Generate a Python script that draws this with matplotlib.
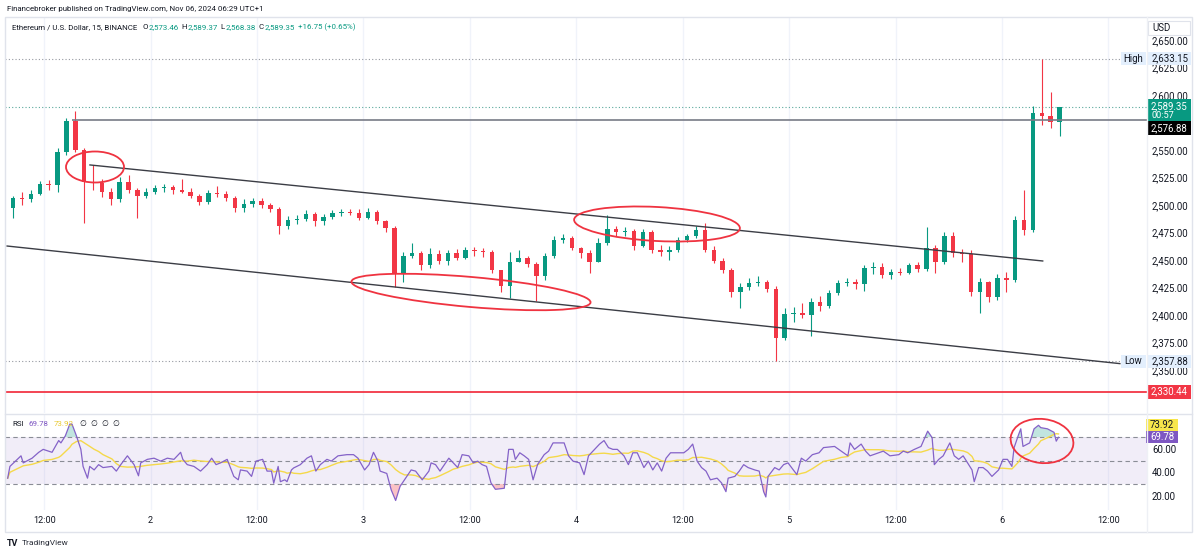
import numpy as np
import pandas as pd
import matplotlib
matplotlib.use("Agg")
import matplotlib.pyplot as plt
from matplotlib.patches import Ellipse, Rectangle

plt.rcParams['font.family'] = ['Roboto', 'DejaVu Sans']

# hourly candles, hours counted from Nov 1 00:00 (Nov 1 08:00 .. Nov 6 06:00)
candle_hours = list(range(8, 127))
first_open = 2497
closes = [2506, 2505, 2510, 2519, 2518, 2548, 2576, 2550, 2521, 2520,
          2512, 2505, 2521, 2514, 2508, 2512, 2515, 2516, 2514, 2512,
          2508, 2503, 2511, 2510, 2506, 2497, 2501, 2504, 2500, 2496,
          2481, 2486, 2487, 2492, 2485, 2489, 2493, 2494, 2493, 2488,
          2494, 2485, 2479, 2438, 2454, 2456, 2445, 2455, 2449, 2456,
          2452, 2459, 2458, 2457, 2441, 2426, 2448, 2452, 2446, 2435,
          2454, 2468, 2470, 2461, 2456, 2448, 2465, 2478, 2475, 2476,
          2463, 2475, 2459, 2457, 2459, 2468, 2472, 2477, 2459, 2449,
          2441, 2421, 2425, 2429, 2430, 2424, 2379, 2401, 2402, 2400,
          2412, 2408, 2420, 2429, 2430, 2428, 2443, 2444, 2436, 2439,
          2438, 2445, 2442, 2461, 2448, 2472, 2456, 2455, 2421, 2430,
          2416, 2434, 2432, 2486, 2477, 2584, 2581, 2575, 2589.35]
highs = [2508, 2512, 2514, 2522, 2523, 2552, 2579, 2585, 2552, 2536,
         2524, 2515, 2525, 2527, 2515, 2515, 2518, 2519, 2518, 2524,
         2515, 2510, 2514, 2517, 2513, 2508, 2505, 2506, 2506, 2502,
         2498, 2490, 2491, 2495, 2494, 2492, 2495, 2496, 2496, 2496,
         2497, 2495, 2486, 2481, 2457, 2465, 2458, 2461, 2459, 2459,
         2460, 2462, 2462, 2461, 2459, 2441, 2457, 2459, 2454, 2448,
         2456, 2472, 2474, 2472, 2462, 2459, 2470, 2491, 2481, 2480,
         2478, 2478, 2477, 2464, 2463, 2471, 2474, 2481, 2484, 2463,
         2452, 2443, 2429, 2434, 2435, 2432, 2426, 2406, 2407, 2411,
         2415, 2417, 2423, 2432, 2434, 2433, 2445, 2448, 2447, 2442,
         2443, 2447, 2448, 2480, 2464, 2475, 2475, 2460, 2459, 2434,
         2431, 2437, 2439, 2490, 2514, 2590, 2633.15, 2603, 2589.37]
lows = [2488, 2500, 2503, 2509, 2514, 2512, 2545, 2548, 2484, 2514,
        2507, 2500, 2503, 2511, 2488, 2506, 2510, 2512, 2510, 2511,
        2506, 2500, 2501, 2507, 2504, 2494, 2494, 2498, 2497, 2494,
        2474, 2478, 2483, 2485, 2481, 2482, 2487, 2490, 2491, 2486,
        2487, 2483, 2475, 2425, 2430, 2452, 2441, 2443, 2446, 2445,
        2450, 2451, 2454, 2453, 2438, 2421, 2415, 2448, 2444, 2413,
        2432, 2452, 2465, 2459, 2452, 2438, 2448, 2464, 2472, 2472,
        2459, 2462, 2456, 2454, 2450, 2457, 2466, 2470, 2457, 2447,
        2438, 2416, 2406, 2423, 2426, 2421, 2357.88, 2377, 2394, 2397,
        2381, 2404, 2406, 2418, 2426, 2424, 2422, 2437, 2434, 2433,
        2436, 2437, 2439, 2440, 2438, 2446, 2453, 2448, 2417, 2402,
        2412, 2414, 2421, 2430, 2473, 2475, 2573, 2570, 2563]

# RSI(14)
rsi_hours = [7.75, 8.0, 9.25, 9.5, 10.5, 11.25, 11.75, 12.75, 13.5, 13.75,
             14.25, 14.75, 15.0, 15.5, 16.0, 16.25, 16.75, 17.0, 17.5, 18.0,
             18.5, 19.5, 20.0, 20.5, 21.25, 22.0, 22.5, 22.75, 23.5, 24.25,
             25.0, 25.75, 26.5, 27.25, 27.5, 28.0, 28.75, 29.5, 30.25, 30.75,
             31.25, 31.75, 32.5, 33.25, 33.75, 34.0, 34.75, 35.25, 35.75, 36.5,
             37.0, 37.5, 37.75, 38.25, 38.5, 39.0, 39.25, 39.75, 40.0, 40.75,
             41.5, 42.0, 42.5, 43.0, 43.75, 44.25, 45.0, 46.0, 46.75, 47.25,
             48.0, 48.5, 49.0, 49.5, 49.75, 50.5, 51.0, 51.5, 52.0, 52.5,
             53.25, 53.75, 54.5, 55.25, 55.5, 56.0, 56.5, 57.5, 58.0, 58.5,
             59.0, 59.75, 60.25, 60.75, 61.25, 61.75, 62.25, 62.75, 63.75, 64.25,
             64.75, 65.0, 65.5, 66.0, 66.5, 67.0, 67.5, 68.25, 68.75, 69.25,
             69.75, 70.5, 71.0, 71.5, 72.25, 72.75, 73.25, 73.75, 74.5, 75.0,
             75.5, 76.0, 76.5, 77.25, 77.75, 78.25, 78.75, 79.5, 80.0, 80.5,
             81.0, 81.5, 82.0, 82.5, 83.25, 84.0, 84.5, 85.0, 85.5, 86.0,
             86.5, 87.0, 87.75, 88.25, 88.75, 89.0, 89.75, 90.25, 90.75, 91.25,
             92.0, 92.5, 93.0, 93.25, 93.5, 94.25, 94.75, 95.25, 95.75, 96.75,
             97.25, 97.75, 98.5, 99.25, 99.75, 101.0, 101.75, 102.5, 102.75, 103.25,
             104.0, 104.5, 105.0, 106.0, 106.5, 107.25, 108.25, 108.75, 109.25, 110.0,
             110.75, 111.5, 112.0, 112.25, 112.75, 113.25, 114.0, 114.5, 115.0, 115.5,
             116.0, 116.5, 116.75, 117.25, 117.75, 118.25, 118.75, 119.5, 120.0, 120.5,
             121.0, 121.25, 121.75, 122.0, 122.25, 123.0, 123.5, 124.0, 124.25, 125.0,
             125.75, 126.0, 126.25]
rsi_values = [35, 45, 54, 48, 52, 57, 59.5, 57, 67, 65,
              71, 81, 81, 71, 59.5, 45, 35, 45, 42, 46.5,
              44, 45, 41, 46.5, 54, 46.5, 37, 48, 51, 52,
              49.5, 52, 51, 57, 51, 46.5, 45, 41, 46.5, 52,
              46.5, 48, 51, 36.5, 33.6, 42, 41, 36.5, 49.5, 51,
              41, 41, 30.7, 45, 32, 33.6, 32, 42, 43.7, 46.5,
              52, 54, 41, 46.5, 51, 49.5, 54, 55, 55, 52,
              42, 46.5, 57, 49.5, 41, 39, 25, 16, 28, 33.6,
              42, 41, 33.6, 41, 48, 46.5, 41, 52, 48, 44,
              55, 54, 48, 49.5, 46.5, 45, 31, 25.5, 26.4, 59.5,
              59.5, 51, 56.6, 54, 51, 33.6, 46.5, 55, 58, 65,
              65, 65, 54, 49.5, 48, 38, 54, 58, 64, 67,
              61, 59.5, 59.5, 54, 46.5, 56.6, 56.6, 44, 49.5, 42,
              48, 41, 52, 56.6, 56.6, 56.6, 59.5, 64, 49.5, 44,
              41, 33.6, 35, 31, 23.5, 35, 36.5, 41, 46.5, 44,
              42, 41, 23.5, 19, 36.5, 44, 42, 46.5, 48, 38,
              52, 49.5, 55, 56.6, 61, 62, 58, 54, 65, 59.5,
              64, 58, 54, 56.6, 58, 54, 55, 58, 56.6, 59.5,
              62, 75, 69.5, 46.5, 51, 54, 65, 54, 51, 54,
              48, 42, 32, 44, 44, 41, 36.5, 42, 51, 51,
              45, 61, 72, 77, 62, 65, 77, 80, 78, 77,
              74, 66.5, 69.78]

x_ticks = [12, 24, 36, 48, 60, 72, 84, 96, 108, 120, 132]
x_labels = ["12:00", "2", "12:00", "3", "12:00", "4", "12:00", "5", "12:00", "6", "12:00"]
# 2,575 and 2,325 sit fully behind the price tags
price_ticks = [2350, 2375, 2400, 2425, 2450, 2475, 2500, 2525, 2550, 2600, 2625, 2650]
rsi_ticks = [20, 40, 60]

# drawn annotations
upper_channel_t, upper_channel_p = [17.15, 124.6], [2536.4, 2449.1]
lower_channel_t, lower_channel_p = [7.8, 133.3], [2462.7, 2355.8]
resistance, resistance_start = 2576.88, 15.1
support = 2330.44
day_high, day_low = 2633.15, 2357.88
last_price = 2589.35

UP, DOWN = '#089981', '#f23645'
DARK = '#131722'
FRAME = '#e0e3eb'

W, H = 1200, 555
fig = plt.figure(figsize=(W / 100, H / 100), dpi=100)


def px_axes(x0, y0, x1, y1, **kw):
    return fig.add_axes([x0 / W, 1 - y1 / H, (x1 - x0) / W, (y1 - y0) / H], **kw)


ax = px_axes(5, 17, 1147, 413)
ax_rsi = px_axes(5, 414, 1147, 510)
ov = px_axes(0, 0, W, H, zorder=10)
ov.set_xlim(0, W)
ov.set_ylim(H, 0)
ov.axis('off')
ov.patch.set_alpha(0)

XMIN, XMAX = 7.57, 136.36
for a in (ax, ax_rsi):
    a.set_xlim(XMIN, XMAX)
    for s in a.spines.values():
        s.set_visible(False)
    a.set_xticks(x_ticks)
    a.grid(axis='x', color='#f0f3fa', lw=1)
    a.set_axisbelow(True)
    a.yaxis.tick_right()
    a.tick_params(axis='y', length=0, pad=3.6, labelsize=6.9, labelcolor=DARK)
ax.tick_params(axis='x', length=0, labelbottom=False)
ax_rsi.set_xticklabels(x_labels)
ax_rsi.tick_params(axis='x', length=0, pad=4.5, labelsize=6.6, labelcolor=DARK)

# ---- price pane
ax.set_ylim(2310.9, 2670.9)
ax.set_yticks(price_ticks)
ax.set_yticklabels([f"{v:,.2f}" for v in price_ticks])

t = np.array(candle_hours) + 0.5
c = np.array(closes, float)
hi = np.array(highs, float)
lo = np.array(lows, float)
o = np.r_[first_open, c[:-1]]
col = np.where(c >= o, UP, DOWN)
ax.vlines(t, lo, hi, colors=col, lw=0.8, zorder=3)
ax.bar(t, np.maximum(np.abs(c - o), 0.6), bottom=np.minimum(o, c), width=0.5,
       color=col, lw=0, zorder=4)

ax.plot(upper_channel_t, upper_channel_p, color='#3b3d45', lw=1, zorder=5)
ax.plot(lower_channel_t, lower_channel_p, color='#3b3d45', lw=1, zorder=5)
ax.hlines(resistance, resistance_start, XMAX, color='#787b86', lw=1.2, zorder=5)
ax.axhline(support, color=DOWN, lw=1.3, zorder=5)
ax.axhline(day_high, xmax=(1120 - 5) / 1142, color='#9598a1', lw=0.8, ls=(0, (1, 2)))
ax.axhline(day_low, xmax=(1120 - 5) / 1142, color='#9598a1', lw=0.8, ls=(0, (1, 2)))
ax.axhline(last_price, color='#5aa99c', lw=0.8, ls=(0, (1, 2)))

# ---- RSI pane
ax_rsi.set_ylim(7.9, 89.6)
ax_rsi.set_yticks(rsi_ticks)
ax_rsi.set_yticklabels([f"{v:.2f}" for v in rsi_ticks])
ax_rsi.axhspan(30, 70, color='#7e57c2', alpha=0.1, lw=0)
for lev in (70, 50, 30):
    ax_rsi.axhline(lev, color='#8a8d96', lw=0.8, ls=(0, (4, 3)))
rt = np.array(rsi_hours) + 0.125
rv = np.array(rsi_values, float)
rsi_ma = pd.Series(rv).rolling(10, min_periods=1).mean()
ax_rsi.fill_between(rt, rv, 70, where=rv > 70, interpolate=True, color=UP, alpha=0.25, lw=0)
ax_rsi.fill_between(rt, rv, 30, where=rv < 30, interpolate=True, color=DOWN, alpha=0.3, lw=0)
ax_rsi.plot(rt, rsi_ma, color='#f5d94a', lw=1)
ax_rsi.plot(rt, rv, color='#8462c8', lw=0.9)


# ---- overlay: frame, labels, annotations
def py(a, v):
    return H - a.transData.transform((XMIN, v))[1]


ov.add_patch(Rectangle((5, 17), 1187, 515, fill=False, ec=FRAME, lw=1))
ov.plot([5, 1192], [413.5, 413.5], color=FRAME, lw=1)
ov.plot([1147, 1147], [17, 532], color='#eef0f5', lw=1)


def tag(x0, x1, yc, h, text, fc, tc, center=False, ec='none'):
    ov.add_patch(Rectangle((x0, yc - h / 2), x1 - x0, h, fc=fc, ec=ec, lw=0.8))
    ov.text((x0 + x1) / 2 if center else x0 + 4, yc, text, color=tc, fontsize=6.9,
            ha='center' if center else 'left', va='center')


tag(1148, 1190, 28, 14, "USD", 'white', DARK, ec=FRAME)
yh = py(ax, day_high)
tag(1121, 1146, yh, 13, "High", '#e3effd', DARK, center=True)
tag(1148, 1191, yh, 13, "2,633.15", '#e3effd', DARK)
yl = py(ax, day_low)
tag(1121, 1146, yl, 13, "Low", '#e3effd', DARK, center=True)
tag(1148, 1191, yl, 13, "2,357.88", '#e3effd', DARK)
yc = py(ax, last_price)
ov.add_patch(Rectangle((1147, yc - 7.5), 44, 22, fc=UP, ec='none'))
ov.text(1151, yc - 0.5, "2,589.35", color='white', fontsize=6.9, va='center')
ov.text(1151, yc + 9, "00:57", color='white', fontsize=6.6, va='center')
tag(1147, 1191, yc + 21.5, 14, "2,576.88", '#000000', 'white')
tag(1147, 1191, py(ax, support), 14, "2,330.44", DOWN, 'white')
yr = py(ax_rsi, rsi_values[-1])
tag(1146, 1178, yr - 12.5, 12, "73.92", '#f7e64b', DARK)
tag(1146, 1178, yr, 12, "69.78", '#7e57c2', 'white')

# red annotation ellipses (pixel space)
for cx, cy, w, h, ang in [(95, 167, 58, 31, 0), (471, 292, 240, 30, 5),
                          (657, 224, 166, 34, 3), (1042, 441, 63, 44, 7)]:
    ov.add_patch(Ellipse((cx, cy), w, h, angle=ang, fill=False, ec='#ef3340', lw=1.3))

# texts
r = fig.canvas.get_renderer()


def line_of_text(x, y, parts, size):
    for text, color, gap in parts:
        tx = ov.text(x, y, text, color=color, fontsize=size, va='center')
        x += tx.get_window_extent(r).width + gap


ov.text(7, 9, "Financebroker published on TradingView.com, Nov 06, 2024 06:29 UTC+1",
        fontsize=5.7, color=DARK, va='center')
line_of_text(12, 27, [("Ethereum / U.S. Dollar, 15, BINANCE", DARK, 5),
                      ("O", DARK, 0.5), ("2,573.46", UP, 3),
                      ("H", DARK, 0.5), ("2,589.37", UP, 3),
                      ("L", DARK, 0.5), ("2,568.38", UP, 3),
                      ("C", DARK, 0.5), ("2,589.35", UP, 4),
                      ("+16.75 (+0.65%)", UP, 0)], 5.7)
line_of_text(12, 424, [("RSI", DARK, 5), ("69.78", '#7e57c2', 5), ("73.92", '#e8c82e', 6),
                       ("∅", DARK, 4), ("∅", DARK, 4), ("∅", DARK, 4), ("∅", DARK, 0)], 5.7)
ov.text(7, 543, "TV", fontsize=6.5, fontweight='bold', color=DARK, va='center')
ov.text(22, 543, "TradingView", fontsize=6, color='#2a2e39', va='center')

fig.savefig("out.png", dpi=100)
